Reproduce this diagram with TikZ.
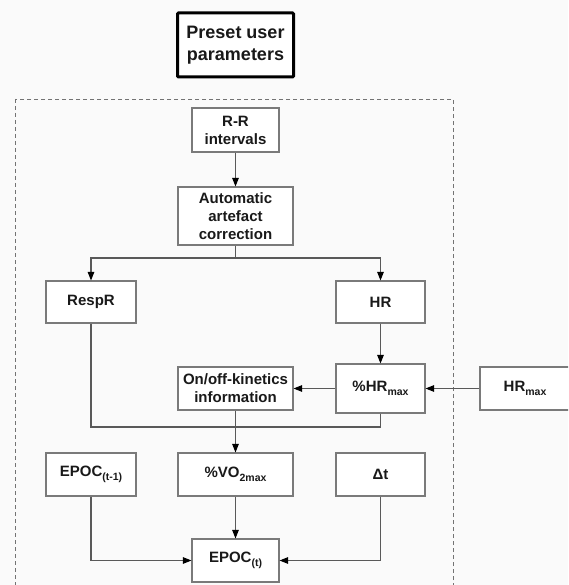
\documentclass[tikz,border=0pt]{standalone}
\usepackage{fontspec}
\setmainfont{Liberation Sans}
\usetikzlibrary{arrows.meta}
\newcommand\lowtxt[1]{\raisebox{-0.45ex}{\fontsize{10.5}{10.5}\selectfont #1}}
\begin{document}
\begin{tikzpicture}[x=1pt,y=-1pt,
  box/.style={draw=black!52,line width=1.1pt,fill=white,align=center,inner sep=0pt,
    font=\fontsize{15}{18}\selectfont\bfseries,text=black!90},
  conn/.style={draw=black!65,line width=1.1pt},
  arr/.style={conn,-{Triangle[length=8.5pt,width=6.5pt,color=black]}}]
\useasboundingbox (0,0) rectangle (568,585);
\clip (0,0) rectangle (568,585);
\fill[white!98!black] (0,0) rectangle (568,585);
\draw[black!55,line width=0.8pt,dash pattern=on 4pt off 3pt] (15,99) rectangle (453,600);
\node[box,draw=black,line width=3pt,rounded corners=1pt,minimum width=116pt,minimum height=64pt,
  font=\fontsize{18}{22}\selectfont\bfseries] (preset) at (235.5,45) {Preset user\\parameters};
\node[box,minimum width=87pt,minimum height=44pt] (rr) at (235.5,130) {R-R\\intervals};
\node[box,minimum width=115pt,minimum height=58pt] (auto) at (235.5,216) {Automatic\\artefact\\correction};
\node[box,minimum width=90pt,minimum height=42pt] (respr) at (91,302) {RespR};
\node[box,minimum width=89pt,minimum height=42pt] (hr) at (380.5,302) {HR};
\node[box,minimum width=89pt,minimum height=49pt] (phr) at (380.5,388.5) {\%HR\lowtxt{max}};
\node[box,minimum width=115pt,minimum height=43pt] (onoff) at (235.5,388.5) {On/off-kinetics\\information};
\node[box,minimum width=90pt,minimum height=43pt] (hrmax) at (525,388.5) {HR\lowtxt{max}};
\node[box,minimum width=90pt,minimum height=43pt] (epoc1) at (91,474.5) {EPOC\lowtxt{(t-1)}};
\node[box,minimum width=115pt,minimum height=43pt] (vo2) at (235.5,474.5) {\%VO\lowtxt{2max}};
\node[box,minimum width=89pt,minimum height=43pt] (dt) at (380.5,474.5) {Δt};
\node[box,minimum width=87pt,minimum height=43pt] (epoct) at (235.5,560.5) {EPOC\lowtxt{(t)}};
\coordinate (split) at (235.5,258);
\coordinate (merge) at (235.5,427);
\draw[arr] (rr) -- (auto);
\draw[conn] (auto) -- (split);
\draw[arr] (split) -| (respr);
\draw[arr] (split) -| (hr);
\draw[arr] (hr) -- (phr);
\draw[arr] (hrmax) -- (phr);
\draw[arr] (phr) -- (onoff);
\draw[conn] (respr.south) |- (merge);
\draw[conn] (phr.south) |- (merge);
\draw[arr] (onoff) -- (vo2);
\draw[arr] (vo2) -- (epoct);
\draw[arr] (epoc1.south) |- (epoct.west);
\draw[arr] (dt.south) |- (epoct.east);
\end{tikzpicture}
\end{document}
